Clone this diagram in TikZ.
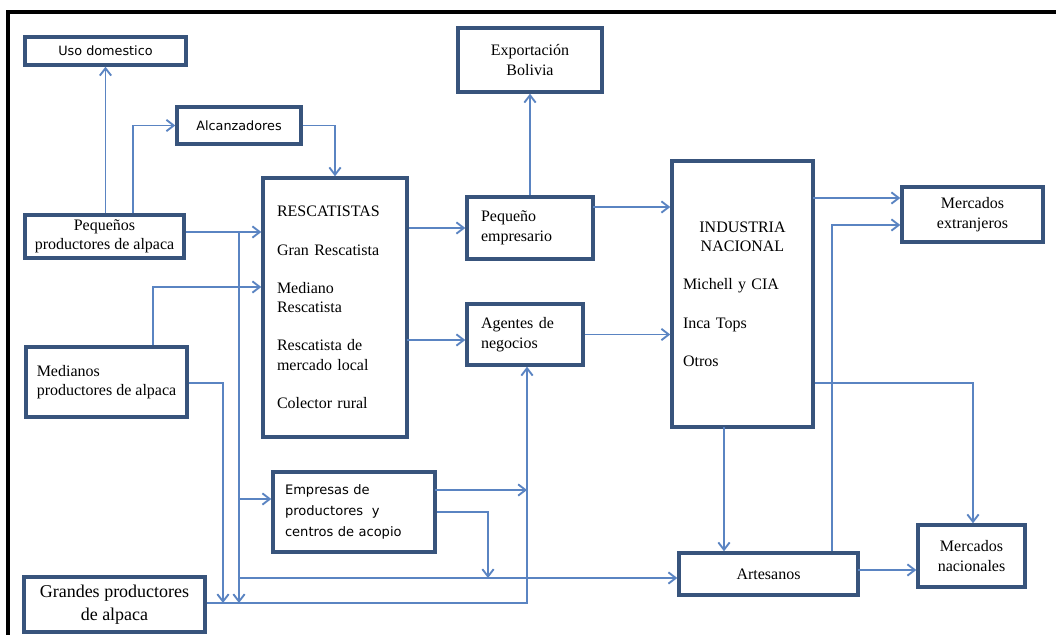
\documentclass[tikz,border=0pt]{standalone}
\usepackage{fontspec}
\setmainfont{Liberation Serif}
\newfontfamily\sansf{DejaVu Sans}
\usetikzlibrary{arrows.meta}
\definecolor{boxc}{RGB}{56,84,124}
\definecolor{connc}{RGB}{90,132,194}
\tikzset{
  box/.style={draw=boxc, line width=2.6pt, inner sep=0pt},
  sz/.style 2 args={minimum width=#1*0.75pt, minimum height=#2*0.75pt},
  serif/.style={font=\fontsize{12}{14.6}\selectfont},
  sans/.style={font=\sansf\fontsize{9.6}{12}\selectfont},
  conn/.style={draw=connc, line width=1.4pt, -{Straight Barb[length=5.5pt,width=8.5pt]}}
}
\begin{document}
\begin{tikzpicture}[x=0.75pt,y=-0.75pt]
\useasboundingbox (0,0) rectangle (1056,635);
\fill[white] (0,0) rectangle (1056,635);
% frame
\draw[line width=2.6pt] (8,635) -- (8,12) -- (1056,12);

% boxes
\node[box, sz={161}{28}, sans, align=center] (uso) at (105.5,51) {Uso domestico};
\node[box, sz={124}{37}, sans, align=center] (alc) at (239,125.5) {Alcanzadores};
\node[box, sz={159}{43}, serif, align=center] (peq) at (104.5,236.5) {Pequeños\\productores de alpaca};
\node[box, sz={161}{70}, serif, align=left] (med) at (106.5,382) {Medianos\\productores de alpaca};
\node[box, sz={181}{55}, font=\fontsize{13.5}{17}\selectfont, align=center] (gra) at (114.5,604.5) {Grandes productores\\de alpaca};
\node[box, sz={144}{259}, serif, align=left, text width=87pt, inner xsep=10.5pt] (resc) at (335,307.5)
  {RESCATISTAS\\[14pt]Gran Rescatista\\[14pt]Mediano\\Rescatista\\[14pt]Rescatista de\\mercado local\\[14pt]Colector rural};
\node[box, sz={126}{62}, serif, align=left, text width=73.5pt, inner xsep=10.5pt] (pe) at (530,228) {Pequeño\\empresario};
\node[box, sz={116}{61}, serif, align=left, text width=66pt, inner xsep=10.5pt] (ag) at (525,334.5) {Agentes de\\negocios};
\node[box, sz={144}{64}, serif, align=center] (exp) at (530,60) {Exportación\\Bolivia};
\node[box, sz={141}{266}, serif, align=left, text width=89.25pt, inner xsep=8.25pt] (ind) at (742.5,294)
  {\makebox[\linewidth]{INDUSTRIA}\\\makebox[\linewidth]{NACIONAL}\\[14pt]Michell y CIA\\[14pt]Inca Tops\\[14pt]Otros};
\node[box, sz={141}{55}, serif, align=center] (mext) at (972.5,214.5) {Mercados\\extranjeros};
\node[box, sz={162}{80}, font=\sansf\fontsize{9.8}{16}\selectfont, align=left, text width=103.5pt, inner xsep=9pt] (emp) at (354,512)
  {Empresas de\\productores \ y\\centros de acopio};
\node[box, sz={179}{42}, serif, align=center] (art) at (768.5,574) {Artesanos};
\node[box, sz={107}{62}, serif, align=center] (mnac) at (971.5,556) {Mercados\\nacionales};

% junction coordinates
\coordinate (ja) at (133,125.5);
\coordinate (jp) at (239,232);
\coordinate (je) at (239,499);
\coordinate (jart) at (239,578);
\coordinate (jm) at (153,287);
\coordinate (jm2) at (223,383);
\coordinate (jg) at (527,603);
\coordinate (je1) at (435,490);
\coordinate (je2) at (488,512);
\coordinate (jra) at (407,340);
\coordinate (jpi) at (593,207);
\coordinate (jx1) at (813,198);
\coordinate (jx2) at (832,225);
\coordinate (jn) at (973,383);
\coordinate (ji) at (724,427);
\coordinate (jan) at (858,570);

% connectors
\draw[conn] (peq.north -| uso.south) -- (uso.south);
\draw[conn] (peq.north -| ja) -- (ja) -- (alc.west);
\draw[conn] (alc.east) -| (resc.north);
\draw[conn] (peq.east |- jp) -- (resc.west |- jp);
\draw[conn] (jp) -- (jp |- jg);
\draw[conn] (je) -- (emp.west |- je);
\draw[conn] (jart) -- (art.west |- jart);
\draw[conn] (med.north -| jm) -- (jm) -- (resc.west |- jm);
\draw[conn] (med.east |- jm2) -- (jm2) -- (jm2 |- jg);
\draw[conn] (gra.east |- jg) -- (jg) -- (jg |- ag.south);
\draw[conn] (je1) -- (jg |- je1);
\draw[conn] (je2 -| emp.east) -- (je2) -- (je2 |- jart);
\draw[conn] (resc.east |- pe.west) -- (pe.west);
\draw[conn] (jra) -- (ag.west |- jra);
\draw[conn] (pe.north) -- (exp.south);
\draw[conn] (jpi) -- (ind.west |- jpi);
\draw[conn] (ag.east) -- (ind.west |- ag.east);
\draw[conn] (jx1) -- (mext.west |- jx1);
\draw[conn] (art.north -| jx2) -- (jx2) -- (mext.west |- jx2);
\draw[conn] (ind.east |- jn) -- (jn) -- (jn |- mnac.north);
\draw[conn] (ji) -- (art.north -| ji);
\draw[conn] (jan) -- (mnac.west |- jan);
\end{tikzpicture}
\end{document}
